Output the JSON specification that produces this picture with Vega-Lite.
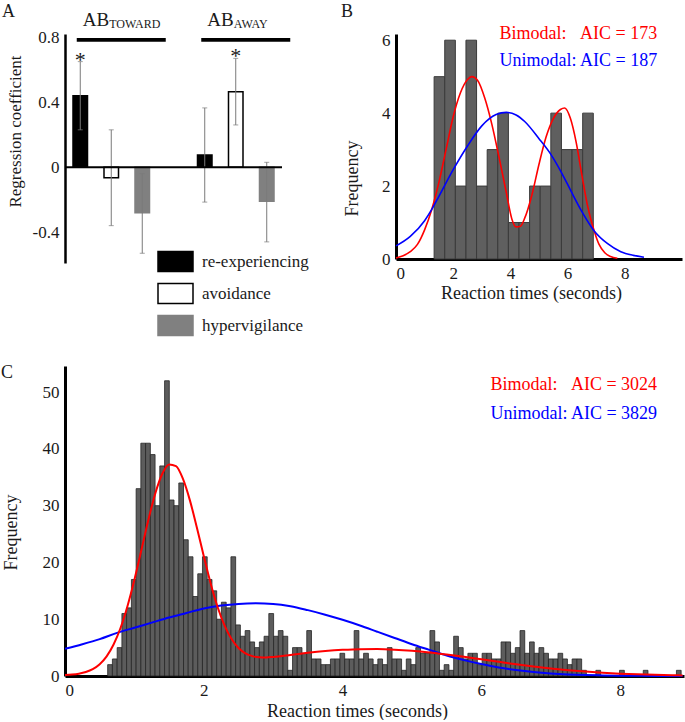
{
  "$schema": "https://vega.github.io/schema/vega-lite/v6.json",
  "background": "white",
  "padding": {"left": 1, "top": 3, "right": 0, "bottom": 0},
  "config": {
    "font": "Liberation Serif",
    "view": {"stroke": null},
    "axis": {"domainColor": "#000000", "domainWidth": 3, "ticks": false, "grid": false, "labelFont": "Liberation Serif", "labelFontSize": 17, "labelColor": "#1a1a1a", "labelPadding": 6, "titleFont": "Liberation Serif", "titleFontSize": 17, "titleFontWeight": "normal", "titleColor": "#1a1a1a"},
    "legend": {"labelFont": "Liberation Serif"},
    "title": {"font": "Liberation Serif", "fontSize": 18, "fontWeight": "normal", "color": "#1a1a1a"}
  },
  "spacing": 62,
  "vconcat": [
    {
      "spacing": 50,
      "hconcat": [
        {
          "width": 217,
          "height": 229,
          "title": {"text": "A", "frame": "group", "anchor": "start", "dx": -63, "dy": 24, "offset": 0, "baseline": "alphabetic"},
          "data": {"values": [
            {"bias": "TOWARD", "symptom": "re-experiencing", "coef": 0.44, "lo": 0.23, "hi": 0.65, "sig": "*"},
            {"bias": "TOWARD", "symptom": "avoidance", "coef": -0.065, "lo": -0.36, "hi": 0.23, "sig": ""},
            {"bias": "TOWARD", "symptom": "hypervigilance", "coef": -0.28, "lo": -0.53, "hi": -0.04, "sig": ""},
            {"bias": "AWAY", "symptom": "re-experiencing", "coef": 0.075, "lo": -0.215, "hi": 0.365, "sig": ""},
            {"bias": "AWAY", "symptom": "avoidance", "coef": 0.465, "lo": 0.26, "hi": 0.67, "sig": "*"},
            {"bias": "AWAY", "symptom": "hypervigilance", "coef": -0.21, "lo": -0.46, "hi": 0.03, "sig": ""}
          ]},
          "layer": [
            {
              "mark": {"type": "bar", "strokeWidth": 1.5},
              "encoding": {
                "x": {"field": "bias", "type": "nominal", "sort": ["TOWARD", "AWAY"], "scale": {"paddingInner": 0.257, "paddingOuter": 0}, "axis": null},
                "xOffset": {"field": "symptom", "type": "nominal", "sort": ["re-experiencing", "avoidance", "hypervigilance"], "scale": {"paddingInner": 0.532, "paddingOuter": 0.258}},
                "y": {"field": "coef", "type": "quantitative", "stack": null, "scale": {"domain": [-0.59, 0.82], "nice": false, "zero": false},
                  "axis": {"values": [-0.4, 0, 0.4, 0.8], "labelExpr": "datum.value === 0 ? '0' : (datum.value < 0 ? '-' + format(-datum.value, '.1f') : format(datum.value, '.1f'))", "title": "Regression coefficient", "domainWidth": 2.5, "titleY": 97, "titlePadding": 8}},
                "fill": {"field": "symptom", "type": "nominal", "scale": {"domain": ["re-experiencing", "avoidance", "hypervigilance"], "range": ["#000000", "#ffffff", "#808080"]},
                  "legend": {"orient": "none", "legendX": 92, "legendY": 209, "title": null, "symbolType": "M-1,-0.571H1V0.571H-1Z", "symbolSize": 1225, "symbolStrokeWidth": 1.5, "labelFontSize": 17, "labelColor": "#1a1a1a", "labelOffset": 8, "rowPadding": -3}},
                "stroke": {"field": "symptom", "type": "nominal", "scale": {"domain": ["re-experiencing", "avoidance", "hypervigilance"], "range": ["#000000", "#000000", "#808080"]},
                  "legend": {"orient": "none", "legendX": 92, "legendY": 209, "title": null, "symbolType": "M-1,-0.571H1V0.571H-1Z", "symbolSize": 1225, "symbolStrokeWidth": 1.5, "labelFontSize": 17, "labelColor": "#1a1a1a", "labelOffset": 8, "rowPadding": -3}}
              }
            },
            {
              "mark": {"type": "rule", "color": "#7a7a7a", "strokeWidth": 1},
              "encoding": {
                "x": {"field": "bias", "type": "nominal", "sort": ["TOWARD", "AWAY"], "axis": null},
                "xOffset": {"field": "symptom", "type": "nominal", "sort": ["re-experiencing", "avoidance", "hypervigilance"]},
                "y": {"field": "lo", "type": "quantitative", "scale": {"domain": [-0.59, 0.82], "nice": false, "zero": false}},
                "y2": {"field": "hi"}
              }
            },
            {
              "mark": {"type": "tick", "orient": "horizontal", "size": 5, "thickness": 1, "color": "#7a7a7a"},
              "encoding": {
                "x": {"field": "bias", "type": "nominal", "sort": ["TOWARD", "AWAY"], "axis": null},
                "xOffset": {"field": "symptom", "type": "nominal", "sort": ["re-experiencing", "avoidance", "hypervigilance"]},
                "y": {"field": "hi", "type": "quantitative", "scale": {"domain": [-0.59, 0.82], "nice": false, "zero": false}}
              }
            },
            {
              "mark": {"type": "tick", "orient": "horizontal", "size": 5, "thickness": 1, "color": "#7a7a7a"},
              "encoding": {
                "x": {"field": "bias", "type": "nominal", "sort": ["TOWARD", "AWAY"], "axis": null},
                "xOffset": {"field": "symptom", "type": "nominal", "sort": ["re-experiencing", "avoidance", "hypervigilance"]},
                "y": {"field": "lo", "type": "quantitative", "scale": {"domain": [-0.59, 0.82], "nice": false, "zero": false}}
              }
            },
            {
              "transform": [{"filter": "datum.sig === '*'"}],
              "mark": {"type": "text", "fontSize": 22, "baseline": "alphabetic", "dy": 5, "color": "#1a1a1a"},
              "encoding": {
                "x": {"field": "bias", "type": "nominal", "sort": ["TOWARD", "AWAY"], "axis": null},
                "xOffset": {"field": "symptom", "type": "nominal", "sort": ["re-experiencing", "avoidance", "hypervigilance"]},
                "y": {"field": "hi", "type": "quantitative", "scale": {"domain": [-0.59, 0.82], "nice": false, "zero": false}},
                "text": {"field": "sig"}
              }
            },
            {
              "data": {"values": [{"z": 0}]},
              "mark": {"type": "rule", "color": "#000000", "strokeWidth": 2},
              "encoding": {
                "y": {"field": "z", "type": "quantitative", "scale": {"domain": [-0.59, 0.82], "nice": false, "zero": false}}
              }
            },
            {
              "data": {"values": [{"bias": "TOWARD", "main": "AB", "sub": "TOWARD"}, {"bias": "AWAY", "main": "AB", "sub": "AWAY"}]},
              "mark": {"type": "bar", "width": 89, "xOffset": 10, "color": "#000000"},
              "encoding": {
                "x": {"field": "bias", "type": "nominal", "sort": ["TOWARD", "AWAY"], "axis": null},
                "y": {"datum": 0.772, "type": "quantitative", "scale": {"domain": [-0.59, 0.82], "nice": false, "zero": false}},
                "y2": {"datum": 0.795}
              }
            },
            {
              "data": {"values": [{"bias": "TOWARD", "main": "AB", "sub": "TOWARD"}, {"bias": "AWAY", "main": "AB", "sub": "AWAY"}]},
              "mark": {"type": "text", "fontSize": 19, "align": "right", "baseline": "alphabetic", "dx": -2, "color": "#1a1a1a"},
              "encoding": {
                "x": {"field": "bias", "type": "nominal", "sort": ["TOWARD", "AWAY"], "axis": null},
                "y": {"datum": 0.868, "type": "quantitative", "scale": {"domain": [-0.59, 0.82], "nice": false, "zero": false}},
                "text": {"field": "main"}
              }
            },
            {
              "data": {"values": [{"bias": "TOWARD", "main": "AB", "sub": "TOWARD"}, {"bias": "AWAY", "main": "AB", "sub": "AWAY"}]},
              "mark": {"type": "text", "fontSize": 12, "align": "left", "baseline": "alphabetic", "dx": -2, "color": "#1a1a1a"},
              "encoding": {
                "x": {"field": "bias", "type": "nominal", "sort": ["TOWARD", "AWAY"], "axis": null},
                "y": {"datum": 0.856, "type": "quantitative", "scale": {"domain": [-0.59, 0.82], "nice": false, "zero": false}},
                "text": {"field": "sub"}
              }
            }
          ]
        },
        {
          "width": 286,
          "height": 225,
          "title": {"text": "B", "frame": "group", "anchor": "start", "dx": -55, "dy": 10.5, "offset": 0, "baseline": "alphabetic"},
          "layer": [
            {
              "data": {"values": [
                {"a": 1.333, "b": 1.704, "n": 5}, {"a": 1.704, "b": 2.075, "n": 6}, {"a": 2.075, "b": 2.446, "n": 2},
                {"a": 2.446, "b": 2.817, "n": 6}, {"a": 2.817, "b": 3.188, "n": 2}, {"a": 3.188, "b": 3.559, "n": 3},
                {"a": 3.559, "b": 3.93, "n": 4}, {"a": 3.93, "b": 4.301, "n": 1}, {"a": 4.301, "b": 4.672, "n": 1},
                {"a": 4.672, "b": 5.043, "n": 2}, {"a": 5.043, "b": 5.414, "n": 2}, {"a": 5.414, "b": 5.785, "n": 4},
                {"a": 5.785, "b": 6.156, "n": 3}, {"a": 6.156, "b": 6.527, "n": 3}, {"a": 6.527, "b": 6.898, "n": 4}
              ]},
              "mark": {"type": "rect", "fill": "#5f5f5f", "stroke": "#3a3a3a", "strokeWidth": 1},
              "encoding": {
                "x": {"field": "a", "type": "quantitative", "scale": {"domain": [0, 10], "nice": false},
                  "axis": {"values": [0, 2, 4, 6, 8], "format": "d", "title": "Reaction times (seconds)", "titleFontSize": 18, "titleX": 135, "titlePadding": 3}},
                "x2": {"field": "b"},
                "y": {"field": "n", "type": "quantitative", "scale": {"domain": [0, 6.17], "nice": false},
                  "axis": {"values": [0, 2, 4, 6], "format": "d", "title": "Frequency", "titleFontSize": 18, "titleY": 144, "titlePadding": 20}},
                "y2": {"datum": 0}
              }
            },
            {
              "data": {"values": [
                {"t": 0, "f": 0.03}, {"t": 0.25, "f": 0.09}, {"t": 0.5, "f": 0.2}, {"t": 0.75, "f": 0.4}, {"t": 1.0, "f": 0.8},
                {"t": 1.25, "f": 1.36}, {"t": 1.5, "f": 2.1}, {"t": 1.75, "f": 3.0}, {"t": 2.0, "f": 3.9}, {"t": 2.25, "f": 4.55},
                {"t": 2.5, "f": 4.92}, {"t": 2.65, "f": 5.0}, {"t": 2.85, "f": 4.9}, {"t": 3.1, "f": 4.42}, {"t": 3.35, "f": 3.7},
                {"t": 3.6, "f": 2.8}, {"t": 3.85, "f": 1.85}, {"t": 4.05, "f": 1.1}, {"t": 4.2, "f": 0.88}, {"t": 4.35, "f": 0.9},
                {"t": 4.5, "f": 1.12}, {"t": 4.75, "f": 1.75}, {"t": 5.0, "f": 2.6}, {"t": 5.25, "f": 3.35}, {"t": 5.5, "f": 3.85},
                {"t": 5.75, "f": 4.1}, {"t": 5.9, "f": 4.14}, {"t": 6.1, "f": 3.85}, {"t": 6.3, "f": 3.2}, {"t": 6.5, "f": 2.3},
                {"t": 6.7, "f": 1.45}, {"t": 6.93, "f": 0.77}, {"t": 7.1, "f": 0.4}, {"t": 7.3, "f": 0.17}, {"t": 7.5, "f": 0.07},
                {"t": 7.74, "f": 0.02}
              ]},
              "mark": {"type": "line", "color": "#ff0000", "strokeWidth": 1.6, "interpolate": "monotone"},
              "encoding": {
                "x": {"field": "t", "type": "quantitative"},
                "y": {"field": "f", "type": "quantitative"}
              }
            },
            {
              "data": {"values": [
                {"t": 0, "f": 0.36}, {"t": 0.5, "f": 0.62}, {"t": 1.0, "f": 1.05}, {"t": 1.25, "f": 1.36}, {"t": 1.5, "f": 1.72},
                {"t": 2.0, "f": 2.45}, {"t": 2.5, "f": 3.1}, {"t": 3.0, "f": 3.65}, {"t": 3.5, "f": 3.96}, {"t": 3.86, "f": 4.02},
                {"t": 4.2, "f": 3.95}, {"t": 4.5, "f": 3.77}, {"t": 5.0, "f": 3.3}, {"t": 5.43, "f": 2.85}, {"t": 5.8, "f": 2.35},
                {"t": 6.12, "f": 1.86}, {"t": 6.5, "f": 1.3}, {"t": 6.93, "f": 0.77}, {"t": 7.4, "f": 0.42}, {"t": 7.86, "f": 0.2},
                {"t": 8.3, "f": 0.1}, {"t": 8.67, "f": 0.05}
              ]},
              "mark": {"type": "line", "color": "#0000ff", "strokeWidth": 1.6, "interpolate": "monotone"},
              "encoding": {
                "x": {"field": "t", "type": "quantitative"},
                "y": {"field": "f", "type": "quantitative"}
              }
            },
            {
              "data": {"values": [{"label": "Bimodal:\u00a0\u00a0\u00a0AIC = 173"}]},
              "mark": {"type": "text", "fontSize": 18, "align": "left", "baseline": "alphabetic", "color": "#ff0000"},
              "encoding": {"x": {"datum": 3.62}, "y": {"datum": 6.04}, "text": {"field": "label"}}
            },
            {
              "data": {"values": [{"label": "Unimodal: AIC = 187"}]},
              "mark": {"type": "text", "fontSize": 18, "align": "left", "baseline": "alphabetic", "color": "#0000ff"},
              "encoding": {"x": {"datum": 3.62}, "y": {"datum": 5.28}, "text": {"field": "label"}}
            }
          ]
        }
      ]
    },
    {
      "width": 619,
      "height": 310,
      "title": {"text": "C", "frame": "group", "anchor": "start", "dx": -64, "dy": 30, "offset": 0, "baseline": "alphabetic"},
      "layer": [
        {
          "data": {"values": [
            {"a": 0.615, "b": 0.683, "n": 2}, {"a": 0.683, "b": 0.752, "n": 3}, {"a": 0.752, "b": 0.820, "n": 5}, {"a": 0.820, "b": 0.888, "n": 11},
            {"a": 0.888, "b": 0.957, "n": 12}, {"a": 0.957, "b": 1.025, "n": 17}, {"a": 1.025, "b": 1.093, "n": 33}, {"a": 1.093, "b": 1.161, "n": 41},
            {"a": 1.161, "b": 1.230, "n": 41}, {"a": 1.230, "b": 1.298, "n": 39}, {"a": 1.298, "b": 1.366, "n": 30}, {"a": 1.366, "b": 1.435, "n": 37},
            {"a": 1.435, "b": 1.503, "n": 52}, {"a": 1.503, "b": 1.571, "n": 31}, {"a": 1.571, "b": 1.640, "n": 30}, {"a": 1.640, "b": 1.708, "n": 34},
            {"a": 1.708, "b": 1.776, "n": 24}, {"a": 1.776, "b": 1.844, "n": 21}, {"a": 1.844, "b": 1.913, "n": 14}, {"a": 1.913, "b": 1.981, "n": 18},
            {"a": 1.981, "b": 2.049, "n": 21}, {"a": 2.049, "b": 2.118, "n": 17}, {"a": 2.118, "b": 2.186, "n": 15}, {"a": 2.186, "b": 2.254, "n": 10},
            {"a": 2.254, "b": 2.323, "n": 13}, {"a": 2.323, "b": 2.391, "n": 12}, {"a": 2.391, "b": 2.459, "n": 21}, {"a": 2.459, "b": 2.527, "n": 9},
            {"a": 2.527, "b": 2.596, "n": 7}, {"a": 2.596, "b": 2.664, "n": 8}, {"a": 2.664, "b": 2.732, "n": 6}, {"a": 2.732, "b": 2.801, "n": 5},
            {"a": 2.801, "b": 2.869, "n": 6}, {"a": 2.869, "b": 2.937, "n": 7}, {"a": 2.937, "b": 3.006, "n": 11}, {"a": 3.006, "b": 3.074, "n": 7},
            {"a": 3.074, "b": 3.142, "n": 8}, {"a": 3.142, "b": 3.210, "n": 7}, {"a": 3.210, "b": 3.279, "n": 1}, {"a": 3.279, "b": 3.347, "n": 5},
            {"a": 3.347, "b": 3.415, "n": 5}, {"a": 3.415, "b": 3.484, "n": 4}, {"a": 3.484, "b": 3.552, "n": 8}, {"a": 3.552, "b": 3.620, "n": 3},
            {"a": 3.620, "b": 3.689, "n": 3}, {"a": 3.689, "b": 3.757, "n": 2}, {"a": 3.757, "b": 3.825, "n": 2}, {"a": 3.825, "b": 3.893, "n": 3},
            {"a": 3.893, "b": 3.962, "n": 3}, {"a": 3.962, "b": 4.030, "n": 4}, {"a": 4.030, "b": 4.098, "n": 3}, {"a": 4.098, "b": 4.167, "n": 3},
            {"a": 4.167, "b": 4.235, "n": 8}, {"a": 4.235, "b": 4.303, "n": 3}, {"a": 4.303, "b": 4.372, "n": 4}, {"a": 4.372, "b": 4.440, "n": 3},
            {"a": 4.440, "b": 4.508, "n": 2}, {"a": 4.508, "b": 4.576, "n": 3}, {"a": 4.576, "b": 4.645, "n": 2}, {"a": 4.645, "b": 4.713, "n": 5},
            {"a": 4.713, "b": 4.781, "n": 3}, {"a": 4.781, "b": 4.850, "n": 3}, {"a": 4.850, "b": 4.918, "n": 1}, {"a": 4.918, "b": 4.986, "n": 3},
            {"a": 4.986, "b": 5.055, "n": 2}, {"a": 5.055, "b": 5.123, "n": 5}, {"a": 5.123, "b": 5.191, "n": 4}, {"a": 5.191, "b": 5.259, "n": 4},
            {"a": 5.259, "b": 5.328, "n": 8}, {"a": 5.328, "b": 5.396, "n": 6}, {"a": 5.396, "b": 5.464, "n": 1}, {"a": 5.464, "b": 5.533, "n": 2},
            {"a": 5.533, "b": 5.601, "n": 1}, {"a": 5.601, "b": 5.669, "n": 7}, {"a": 5.669, "b": 5.738, "n": 5}, {"a": 5.738, "b": 5.806, "n": 3},
            {"a": 5.806, "b": 5.874, "n": 4}, {"a": 5.874, "b": 5.942, "n": 4}, {"a": 5.942, "b": 6.011, "n": 2}, {"a": 6.011, "b": 6.079, "n": 4},
            {"a": 6.079, "b": 6.147, "n": 4}, {"a": 6.147, "b": 6.216, "n": 3}, {"a": 6.216, "b": 6.284, "n": 3}, {"a": 6.284, "b": 6.352, "n": 6},
            {"a": 6.352, "b": 6.421, "n": 6}, {"a": 6.421, "b": 6.489, "n": 4}, {"a": 6.489, "b": 6.557, "n": 5}, {"a": 6.557, "b": 6.625, "n": 8},
            {"a": 6.625, "b": 6.694, "n": 4}, {"a": 6.694, "b": 6.762, "n": 6}, {"a": 6.762, "b": 6.830, "n": 4}, {"a": 6.830, "b": 6.899, "n": 5},
            {"a": 6.899, "b": 6.967, "n": 4}, {"a": 6.967, "b": 7.035, "n": 3}, {"a": 7.035, "b": 7.104, "n": 3}, {"a": 7.104, "b": 7.172, "n": 4},
            {"a": 7.172, "b": 7.240, "n": 3}, {"a": 7.240, "b": 7.308, "n": 2}, {"a": 7.308, "b": 7.377, "n": 3}, {"a": 7.377, "b": 7.445, "n": 3},
            {"a": 7.445, "b": 7.513, "n": 1}, {"a": 7.650, "b": 7.718, "n": 1}, {"a": 7.991, "b": 8.060, "n": 1}, {"a": 8.333, "b": 8.401, "n": 1},
            {"a": 8.811, "b": 8.879, "n": 1}
          ]},
          "mark": {"type": "rect", "fill": "#5c5c5c", "stroke": "#262626", "strokeWidth": 0.8},
          "encoding": {
            "x": {"field": "a", "type": "quantitative", "scale": {"domain": [0, 8.92], "nice": false},
              "axis": {"values": [0, 2, 4, 6, 8], "format": "d", "title": "Reaction times (seconds)", "titleFontSize": 18, "titleX": 292, "titlePadding": 4}},
            "x2": {"field": "b"},
            "y": {"field": "n", "type": "quantitative", "scale": {"domain": [0, 54.6], "nice": false},
              "axis": {"values": [0, 10, 20, 30, 40, 50], "format": "d", "title": "Frequency", "titleFontSize": 18, "titleY": 166, "titlePadding": 22}},
            "y2": {"datum": 0}
          }
        },
        {
          "data": {"values": [
            {"t": 0, "f": 4.8}, {"t": 0.25, "f": 5.6}, {"t": 0.5, "f": 6.5}, {"t": 0.75, "f": 7.6}, {"t": 1.0, "f": 8.5},
            {"t": 1.25, "f": 9.4}, {"t": 1.5, "f": 10.3}, {"t": 1.75, "f": 11.1}, {"t": 2.0, "f": 11.9}, {"t": 2.25, "f": 12.4},
            {"t": 2.5, "f": 12.7}, {"t": 2.75, "f": 12.8}, {"t": 3.0, "f": 12.7}, {"t": 3.25, "f": 12.3}, {"t": 3.5, "f": 11.6},
            {"t": 3.75, "f": 10.8}, {"t": 4.0, "f": 9.9}, {"t": 4.25, "f": 8.9}, {"t": 4.5, "f": 7.8}, {"t": 4.75, "f": 6.7},
            {"t": 5.0, "f": 5.6}, {"t": 5.25, "f": 4.6}, {"t": 5.5, "f": 3.6}, {"t": 5.75, "f": 2.8}, {"t": 6.0, "f": 2.1},
            {"t": 6.25, "f": 1.5}, {"t": 6.5, "f": 1.05}, {"t": 6.75, "f": 0.7}, {"t": 7.0, "f": 0.45}, {"t": 7.25, "f": 0.28},
            {"t": 7.5, "f": 0.17}, {"t": 7.75, "f": 0.1}, {"t": 8.0, "f": 0.06}, {"t": 8.5, "f": 0.02}, {"t": 8.9, "f": 0.01}
          ]},
          "mark": {"type": "line", "color": "#0000ff", "strokeWidth": 2, "interpolate": "monotone"},
          "encoding": {
            "x": {"field": "t", "type": "quantitative"},
            "y": {"field": "f", "type": "quantitative"}
          }
        },
        {
          "data": {"values": [
            {"t": 0, "f": 0.17}, {"t": 0.1, "f": 0.25}, {"t": 0.2, "f": 0.41}, {"t": 0.3, "f": 0.7}, {"t": 0.4, "f": 1.2},
            {"t": 0.5, "f": 2.07}, {"t": 0.6, "f": 3.45}, {"t": 0.7, "f": 5.54}, {"t": 0.8, "f": 8.45}, {"t": 0.9, "f": 12.3},
            {"t": 1.0, "f": 16.96}, {"t": 1.1, "f": 22.15}, {"t": 1.2, "f": 27.43}, {"t": 1.3, "f": 32.11}, {"t": 1.4, "f": 35.57},
            {"t": 1.5, "f": 37.27}, {"t": 1.6, "f": 36.98}, {"t": 1.7, "f": 34.7}, {"t": 1.8, "f": 30.93}, {"t": 1.9, "f": 26.16},
            {"t": 2.0, "f": 21.1}, {"t": 2.1, "f": 16.25}, {"t": 2.2, "f": 12.11}, {"t": 2.3, "f": 8.87}, {"t": 2.4, "f": 6.5},
            {"t": 2.5, "f": 4.93}, {"t": 2.6, "f": 4.0}, {"t": 2.7, "f": 3.5}, {"t": 2.8, "f": 3.31}, {"t": 2.9, "f": 3.28},
            {"t": 3.0, "f": 3.36}, {"t": 3.25, "f": 3.7}, {"t": 3.5, "f": 4.08}, {"t": 3.75, "f": 4.39}, {"t": 4.0, "f": 4.61},
            {"t": 4.25, "f": 4.73}, {"t": 4.5, "f": 4.74}, {"t": 4.75, "f": 4.64}, {"t": 5.0, "f": 4.44}, {"t": 5.25, "f": 4.15},
            {"t": 5.5, "f": 3.78}, {"t": 5.75, "f": 3.37}, {"t": 6.0, "f": 2.93}, {"t": 6.25, "f": 2.49}, {"t": 6.5, "f": 2.07},
            {"t": 6.75, "f": 1.68}, {"t": 7.0, "f": 1.33}, {"t": 7.25, "f": 1.03}, {"t": 7.5, "f": 0.78}, {"t": 7.75, "f": 0.57},
            {"t": 8.0, "f": 0.41}, {"t": 8.25, "f": 0.29}, {"t": 8.5, "f": 0.2}, {"t": 8.75, "f": 0.13}, {"t": 8.9, "f": 0.1}
          ]},
          "mark": {"type": "line", "color": "#ff0000", "strokeWidth": 2, "interpolate": "monotone"},
          "encoding": {
            "x": {"field": "t", "type": "quantitative"},
            "y": {"field": "f", "type": "quantitative"}
          }
        },
        {
          "data": {"values": [{"label": "Bimodal:\u00a0\u00a0\u00a0AIC = 3024"}]},
          "mark": {"type": "text", "fontSize": 18, "align": "left", "baseline": "alphabetic", "color": "#ff0000"},
          "encoding": {"x": {"datum": 6.13}, "y": {"datum": 50.3}, "text": {"field": "label"}}
        },
        {
          "data": {"values": [{"label": "Unimodal: AIC = 3829"}]},
          "mark": {"type": "text", "fontSize": 18, "align": "left", "baseline": "alphabetic", "color": "#0000ff"},
          "encoding": {"x": {"datum": 6.13}, "y": {"datum": 45.3}, "text": {"field": "label"}}
        }
      ]
    }
  ]
}
